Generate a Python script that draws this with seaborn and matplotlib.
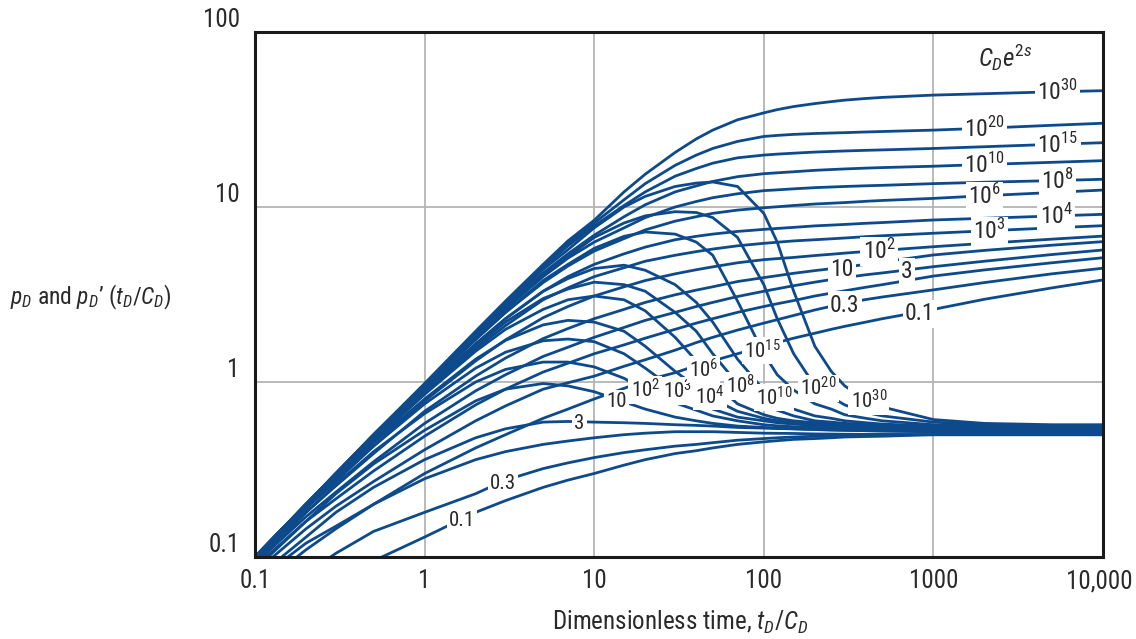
import numpy as np
import pandas as pd
import matplotlib
matplotlib.use('Agg')
import matplotlib.pyplot as plt
import matplotlib.transforms as mtrans
from matplotlib import font_manager as fm
from matplotlib.ticker import NullLocator
import seaborn as sns

# dimensionless time tD/CD where the curves were read
T = [0.1, 0.2, 0.3, 0.5, 1, 2, 3, 5, 7, 10, 15, 20, 30, 40, 50, 70, 100, 120, 150, 200,
     250, 300, 400, 500, 1000, 2000, 5000, 10000]

# pressure curves pD, one per CDe2s
pd_0p1 = [0.072, 0.12, 0.15, 0.2, 0.3, 0.42, 0.5, 0.62, 0.7, 0.8, 0.92, 1.02, 1.13, 1.24, 1.32, 1.45, 1.6, 1.68, 1.78, 1.9, 2.0, 2.08, 2.2, 2.3, 2.6, 2.97, 3.45, 3.83]
pd_0p3 = [0.082, 0.145, 0.195, 0.27, 0.41, 0.6, 0.73, 0.91, 0.99, 1.08, 1.23, 1.34, 1.52, 1.68, 1.8, 1.98, 2.17, 2.27, 2.4, 2.58, 2.71, 2.82, 2.96, 3.06, 3.36, 3.7, 4.15, 4.47]
pd_1 = [0.088, 0.16, 0.215, 0.31, 0.49, 0.74, 0.91, 1.14, 1.28, 1.45, 1.63, 1.78, 2.0, 2.17, 2.3, 2.5, 2.7, 2.8, 2.92, 3.1, 3.22, 3.32, 3.48, 3.6, 4.03, 4.37, 4.8, 5.13]
pd_3 = [0.092, 0.17, 0.235, 0.35, 0.58, 0.89, 1.1, 1.4, 1.58, 1.8, 2.05, 2.25, 2.5, 2.7, 2.85, 3.08, 3.3, 3.41, 3.55, 3.72, 3.85, 3.95, 4.1, 4.2, 4.56, 4.9, 5.35, 5.68]
pd_10 = [0.095, 0.18, 0.255, 0.39, 0.68, 1.08, 1.37, 1.77, 2.02, 2.3, 2.6, 2.85, 3.15, 3.35, 3.5, 3.75, 3.95, 4.05, 4.18, 4.33, 4.44, 4.52, 4.71, 4.85, 5.32, 5.65, 6.05, 6.34]
pd_1e2 = [0.097, 0.19, 0.27, 0.43, 0.78, 1.32, 1.74, 2.33, 2.7, 3.1, 3.5, 3.8, 4.15, 4.38, 4.55, 4.8, 5.0, 5.07, 5.15, 5.28, 5.37, 5.45, 5.57, 5.65, 5.93, 6.2, 6.55, 6.82]
pd_1e3 = [0.1, 0.19, 0.28, 0.46, 0.86, 1.55, 2.1, 2.95, 3.45, 4.0, 4.5, 4.9, 5.3, 5.56, 5.75, 6.0, 6.2, 6.29, 6.4, 6.5, 6.58, 6.65, 6.77, 6.85, 7.08, 7.3, 7.6, 7.82]
pd_1e4 = [0.1, 0.2, 0.29, 0.47, 0.89, 1.65, 2.3, 3.3, 4.0, 4.7, 5.4, 5.9, 6.5, 6.8, 7.0, 7.25, 7.45, 7.54, 7.65, 7.8, 7.88, 7.95, 8.07, 8.15, 8.43, 8.62, 8.88, 9.08]
pd_1e6 = [0.1, 0.2, 0.29, 0.48, 0.92, 1.75, 2.5, 3.7, 4.6, 5.6, 6.6, 7.4, 8.3, 8.8, 9.2, 9.6, 9.9, 10.03, 10.2, 10.4, 10.51, 10.6, 10.78, 10.9, 11.2, 11.6, 12.1, 12.5]
pd_1e8 = [0.1, 0.2, 0.3, 0.49, 0.94, 1.8, 2.6, 4.0, 5.1, 6.3, 7.6, 8.7, 10.0, 10.75, 11.3, 11.9, 12.4, 12.53, 12.7, 12.9, 13.01, 13.1, 13.22, 13.3, 13.6, 13.85, 14.15, 14.4]
pd_1e10 = [0.1, 0.2, 0.3, 0.49, 0.95, 1.85, 2.7, 4.2, 5.4, 6.9, 8.8, 10.3, 12.2, 13.2, 14.0, 14.9, 15.5, 15.68, 15.9, 16.2, 16.37, 16.5, 16.68, 16.8, 17.1, 17.5, 18.0, 18.4]
pd_1e15 = [0.1, 0.2, 0.3, 0.5, 0.96, 1.9, 2.8, 4.5, 6.0, 7.8, 10.2, 12.2, 15.0, 16.6, 17.8, 19.1, 19.8, 20.05, 20.3, 20.6, 20.77, 20.9, 21.08, 21.2, 21.6, 22.1, 22.8, 23.3]
pd_1e20 = [0.1, 0.2, 0.3, 0.5, 0.97, 1.93, 2.85, 4.6, 6.2, 8.1, 11.0, 13.6, 17.3, 19.8, 21.6, 23.7, 25.3, 25.65, 26.0, 26.3, 26.47, 26.6, 26.84, 27.0, 27.5, 28.2, 29.3, 30.1]
pd_1e30 = [0.1, 0.2, 0.3, 0.5, 0.98, 1.95, 2.9, 4.7, 6.4, 8.4, 12.2, 15.4, 20.5, 24.5, 27.5, 31.5, 34.5, 36.0, 37.5, 39.0, 40.0, 40.8, 41.7, 42.3, 43.6, 44.4, 45.5, 46.2]

# derivative curves pD' (tD/CD)
dv_0p1 = [0.04, 0.06, 0.075, 0.095, 0.13, 0.18, 0.21, 0.25, 0.275, 0.3, 0.335, 0.36, 0.39, 0.405, 0.42, 0.44, 0.455, 0.462, 0.47, 0.475, 0.48, 0.485, 0.488, 0.49, 0.5, 0.5, 0.5, 0.5]
dv_0p3 = [0.05, 0.08, 0.105, 0.14, 0.18, 0.23, 0.275, 0.32, 0.345, 0.37, 0.395, 0.41, 0.43, 0.44, 0.45, 0.465, 0.475, 0.48, 0.485, 0.49, 0.493, 0.495, 0.498, 0.5, 0.5, 0.5, 0.5, 0.5]
dv_1 = [0.065, 0.11, 0.145, 0.2, 0.28, 0.36, 0.4, 0.44, 0.46, 0.48, 0.5, 0.51, 0.52, 0.52, 0.52, 0.515, 0.51, 0.509, 0.508, 0.505, 0.504, 0.503, 0.502, 0.502, 0.5, 0.5, 0.5, 0.5]
dv_3 = [0.075, 0.13, 0.18, 0.25, 0.36, 0.48, 0.54, 0.59, 0.595, 0.59, 0.585, 0.58, 0.57, 0.565, 0.56, 0.55, 0.545, 0.542, 0.54, 0.535, 0.532, 0.53, 0.527, 0.525, 0.52, 0.515, 0.51, 0.51]
dv_10 = [0.085, 0.16, 0.23, 0.34, 0.53, 0.78, 0.91, 0.98, 0.95, 0.88, 0.77, 0.7, 0.63, 0.6, 0.58, 0.56, 0.55, 0.545, 0.54, 0.535, 0.532, 0.53, 0.527, 0.525, 0.52, 0.52, 0.515, 0.515]
dv_1e2 = [0.09, 0.18, 0.26, 0.4, 0.66, 1.0, 1.18, 1.3, 1.3, 1.22, 1.05, 0.9, 0.76, 0.69, 0.64, 0.6, 0.57, 0.562, 0.555, 0.55, 0.545, 0.54, 0.537, 0.535, 0.53, 0.525, 0.52, 0.52]
dv_1e3 = [0.095, 0.19, 0.28, 0.43, 0.75, 1.2, 1.48, 1.72, 1.76, 1.7, 1.45, 1.2, 0.9, 0.78, 0.7, 0.63, 0.6, 0.585, 0.575, 0.565, 0.56, 0.555, 0.55, 0.545, 0.54, 0.535, 0.53, 0.53]
dv_1e4 = [0.097, 0.19, 0.285, 0.45, 0.8, 1.35, 1.73, 2.12, 2.25, 2.2, 1.95, 1.6, 1.15, 0.94, 0.8, 0.68, 0.62, 0.6, 0.59, 0.575, 0.57, 0.565, 0.56, 0.555, 0.545, 0.54, 0.535, 0.535]
dv_1e6 = [0.098, 0.195, 0.29, 0.46, 0.85, 1.5, 2.0, 2.6, 2.95, 3.1, 2.95, 2.55, 1.8, 1.32, 1.0, 0.75, 0.65, 0.62, 0.6, 0.585, 0.578, 0.57, 0.565, 0.56, 0.55, 0.545, 0.54, 0.54]
dv_1e8 = [0.1, 0.197, 0.293, 0.47, 0.88, 1.6, 2.2, 3.0, 3.4, 3.72, 3.6, 3.3, 2.5, 1.95, 1.45, 0.98, 0.75, 0.69, 0.64, 0.6, 0.59, 0.58, 0.572, 0.565, 0.555, 0.55, 0.545, 0.545]
dv_1e10 = [0.1, 0.198, 0.295, 0.48, 0.9, 1.65, 2.3, 3.3, 3.9, 4.45, 4.65, 4.35, 3.6, 2.85, 2.2, 1.35, 0.9, 0.79, 0.7, 0.64, 0.62, 0.6, 0.585, 0.575, 0.56, 0.555, 0.55, 0.55]
dv_1e15 = [0.1, 0.2, 0.296, 0.485, 0.93, 1.75, 2.5, 3.8, 4.7, 5.8, 6.8, 7.2, 7.0, 6.3, 5.3, 2.9, 1.45, 1.1, 0.9, 0.75, 0.7, 0.65, 0.62, 0.6, 0.57, 0.56, 0.555, 0.555]
dv_1e20 = [0.1, 0.2, 0.298, 0.49, 0.95, 1.82, 2.65, 4.1, 5.2, 6.7, 8.1, 8.9, 9.4, 9.3, 8.7, 6.7, 3.6, 2.3, 1.45, 0.95, 0.82, 0.74, 0.67, 0.64, 0.59, 0.57, 0.56, 0.56]
dv_1e30 = [0.1, 0.2, 0.3, 0.495, 0.97, 1.88, 2.75, 4.4, 5.7, 7.6, 10.0, 11.5, 13.1, 13.7, 13.9, 13.1, 9.2, 6.3, 3.3, 1.6, 1.15, 0.95, 0.79, 0.72, 0.61, 0.58, 0.57, 0.57]

CDE2S = ['0.1', '0.3', '1', '3', '10', '10$^2$', '10$^3$', '10$^4$', '10$^6$',
         '10$^8$', '10$^{10}$', '10$^{15}$', '10$^{20}$', '10$^{30}$']
PD_SERIES = [pd_0p1, pd_0p3, pd_1, pd_3, pd_10, pd_1e2, pd_1e3, pd_1e4, pd_1e6,
             pd_1e8, pd_1e10, pd_1e15, pd_1e20, pd_1e30]
DV_SERIES = [dv_0p1, dv_0p3, dv_1, dv_3, dv_10, dv_1e2, dv_1e3, dv_1e4, dv_1e6,
             dv_1e8, dv_1e10, dv_1e15, dv_1e20, dv_1e30]

# where each curve carries its label (tD/CD), None = unlabeled
PD_LABEL_AT = [830, 300, None, 700, 290, 480, 2150, 5300, 2000, 5400, 2000, 5400, 2000, 5400]
DV_LABEL_AT = [1.66, 2.9, None, 8.2, 13.5, 20, 31, 48, 44, 73, 115, 98, 210, 416]
# labels drawn later sit on top in the crowded cluster
DV_LABEL_Z = [5, 5, 5, 5, 5, 5, 6, 8, 6, 5, 5, 5, 5, 5]

BLUE = '#0d4a8c'
INK = '#2a2a2a'

# narrowest sans available (the original uses a condensed face)
_names = {f.name for f in fm.fontManager.ttflist}
FONT = next((n for n in ['Roboto Condensed', 'Liberation Sans Narrow', 'Arial Narrow',
                         'DejaVu Sans Condensed', 'Liberation Sans'] if n in _names), 'DejaVu Sans')
NARROW = FONT != 'Liberation Sans' and FONT != 'DejaVu Sans'
BIG = 18 if NARROW else 16
SMALL = 15 if NARROW else 13

sns.set_style('white')
plt.rcParams['font.family'] = [FONT, 'DejaVu Sans']
plt.rcParams['mathtext.fontset'] = 'custom'
plt.rcParams['mathtext.rm'] = FONT
plt.rcParams['mathtext.it'] = FONT + ':italic'
plt.rcParams['mathtext.bf'] = FONT + ':bold'

rows = []
for name, pdv, dvv in zip(CDE2S, PD_SERIES, DV_SERIES):
    assert len(pdv) == len(T) and len(dvv) == len(T), name
    for t, a, b in zip(T, pdv, dvv):
        rows.append({'t': t, 'v': a, 'curve': 'pD ' + name})
        rows.append({'t': t, 'v': b, 'curve': 'dv ' + name})
df = pd.DataFrame(rows)

fig = plt.figure(figsize=(11.36, 6.39), dpi=100)
ax = fig.add_axes([255 / 1136, 1 - 557 / 639, (1103 - 255) / 1136, (557 - 32) / 639])

sns.lineplot(data=df, x='t', y='v', units='curve', estimator=None, color=BLUE,
             linewidth=2.0, ax=ax, legend=False)

ax.set_xscale('log')
ax.set_yscale('log')
ax.set_xlim(0.1, 10000)
ax.set_ylim(0.1, 100)
ax.set_xticks([0.1, 1, 10, 100, 1000, 10000])
ax.set_xticklabels(['0.1', '1', '10', '100', '1000', '10,000'])
ax.set_yticks([0.1, 1, 10, 100])
ax.set_yticklabels(['0.1', '1', '10', '100'])
ax.xaxis.set_minor_locator(NullLocator())
ax.yaxis.set_minor_locator(NullLocator())
ax.tick_params(length=0, labelsize=BIG, colors=INK)
ax.tick_params(axis='x', pad=9)
ax.tick_params(axis='y', pad=11)
plt.setp(ax.get_yticklabels(), va='bottom')
last = ax.get_xticklabels()[-1]
last.set_transform(last.get_transform() + mtrans.ScaledTranslation(-0.04, 0, fig.dpi_scale_trans))
ax.set_xlabel('')
ax.set_ylabel('')
ax.grid(True, which='major', color='#b4b4b4', linewidth=1.3)
for sp in ax.spines.values():
    sp.set_color('#1a1a1a')
    sp.set_linewidth(2.2)
    sp.set_visible(True)


def on_curve(tq, vals):
    return 10 ** np.interp(np.log10(tq), np.log10(T), np.log10(vals))


box = dict(boxstyle='square,pad=0.1', fc='white', ec='none')
for name, pdv, dvv, tp, td, zd in zip(CDE2S, PD_SERIES, DV_SERIES, PD_LABEL_AT,
                                      DV_LABEL_AT, DV_LABEL_Z):
    for tq, vals, size, z in ((tp, pdv, BIG - 1, 5), (td, dvv, SMALL, zd)):
        if tq is None:
            continue
        ax.annotate(name, xy=(tq, on_curve(tq, vals)), xytext=(0, -0.36 * size),
                    textcoords='offset points', ha='center', va='baseline',
                    fontsize=size, color=INK, bbox=box, zorder=z)

fig.text(1005 / 1136, 1 - 57 / 639, r'$C_De^{2s}$', ha='center', va='center',
         fontsize=BIG, color=INK)
fig.text(0.009, 1 - 297 / 639, r'$p_D$ and $p_D$’ $(t_D/C_D)$', ha='left', va='center',
         fontsize=BIG - 1, color=INK)
fig.text(680 / 1136, 1 - 622 / 639, r'Dimensionless time, $t_D/C_D$', ha='center',
         va='center', fontsize=BIG, color=INK)

fig.savefig('out.png', dpi=100)
